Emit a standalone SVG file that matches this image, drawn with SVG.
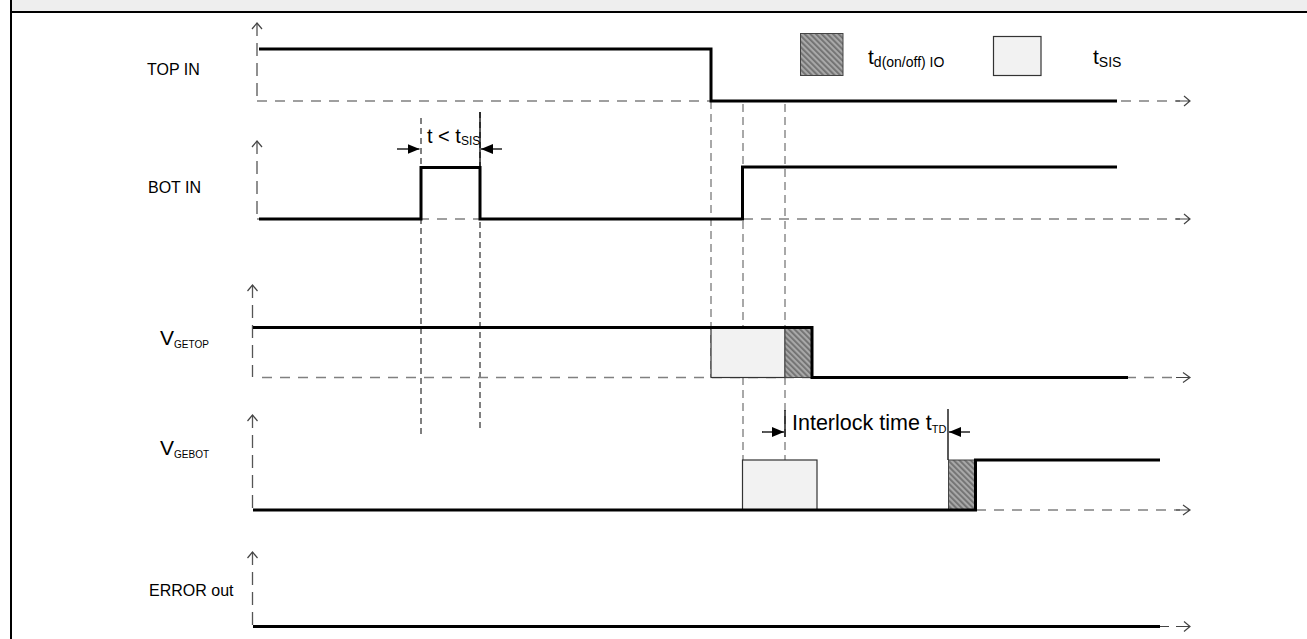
<svg xmlns="http://www.w3.org/2000/svg" width="1307" height="639" viewBox="0 0 1307 639">
<style>
  .lbl{font-family:"Liberation Sans",Arial,sans-serif;fill:#000}
  .sig{fill:none;stroke:#000;stroke-width:3;stroke-linejoin:miter}
  .axis{fill:none;stroke:#555;stroke-width:1.3;stroke-dasharray:13,7}
  .base{fill:none;stroke:#808080;stroke-width:1.6;stroke-dasharray:10,8}
  .head{fill:none;stroke:#444;stroke-width:1.2}
  .gv{fill:none;stroke:#7a7a7a;stroke-width:1.3;stroke-dasharray:8,5}
  .bv{fill:none;stroke:#000;stroke-width:1;stroke-dasharray:6,4}
  .solid{fill:none;stroke:#000;stroke-width:1.3}
  .dim{fill:none;stroke:#000;stroke-width:1.3}
  .light{fill:#f2f2f2;stroke:#333;stroke-width:1.2}
  .hat{fill:url(#hatch);stroke:#444;stroke-width:1}
</style>
<defs>
  <pattern id="hatch" patternUnits="userSpaceOnUse" width="4" height="4" patternTransform="rotate(-45)">
    <rect width="4" height="4" fill="#a8a8a8"/>
    <rect width="1.8" height="4" fill="#707070"/>
  </pattern>
  <marker id="fa" markerUnits="userSpaceOnUse" markerWidth="12" markerHeight="10" refX="12" refY="5" orient="auto">
    <path d="M0,0 L12,5 L0,10 Z" fill="#000"/>
  </marker>
</defs>

<g id="frame">
  <rect x="12" y="0" width="1295" height="11" fill="#eeeeee"/>
  <line x1="10" y1="12" x2="1307" y2="12" stroke="#000" stroke-width="2"/>
  <line x1="11" y1="0" x2="11" y2="639" stroke="#000" stroke-width="2"/>
</g>

<g id="legend">
  <rect class="hat" x="800.5" y="33.5" width="42.5" height="42"/>
  <text class="lbl" x="868" y="64" font-size="21">t<tspan font-size="14" dy="3">d(on/off) IO</tspan></text>
  <rect class="light" x="993.5" y="36.5" width="47.5" height="39"/>
  <text class="lbl" x="1093" y="64" font-size="21">t<tspan font-size="14" dy="3">SIS</tspan></text>
</g>

<g id="timing-guides">
  <path class="gv" d="M711,101 V377"/>
  <path class="gv" d="M743,104 V460"/>
  <path class="gv" d="M785,104 V460"/>
  <path class="bv" d="M421,118 V437"/>
  <path class="bv" d="M480,112 V428"/>
  <path class="solid" d="M480,112 V167"/>
</g>

<g id="top-in">
  <text class="lbl" x="147" y="75" font-size="16">TOP IN</text>
  <path class="axis" d="M257,23 V101"/>
  <path class="head" d="M252,29 L257,23 L262,29"/>
  <path class="base" d="M257,101 H1180"/>
  <path class="head" d="M1176,101 H1190 M1184,96 L1190,101 L1184,106"/>
  <path class="sig" d="M259,49 H711 V101 H1117"/>
</g>

<g id="bot-in">
  <text class="lbl" x="148" y="193" font-size="16">BOT IN</text>
  <path class="axis" d="M257,141 V219"/>
  <path class="head" d="M252,147 L257,141 L262,147"/>
  <path class="base" d="M257,219 H1180"/>
  <path class="head" d="M1176,219 H1190 M1184,214 L1190,219 L1184,224"/>
  <path class="sig" d="M259,219 H421 V167.5 H480 V219 H742.5 V167 H1117"/>
  <text class="lbl" x="427" y="143" font-size="20">t &lt; t<tspan font-size="12" dy="2">SIS</tspan></text>
</g>

<g id="vge-top">
  <text class="lbl" x="160" y="345" font-size="21">V<tspan font-size="10" dy="3">GETOP</tspan></text>
  <path class="axis" d="M252.5,285 V377"/>
  <path class="head" d="M247.5,291 L252.5,285 L257.5,291"/>
  <path class="base" d="M262,377.5 H1180"/>
  <path class="head" d="M1176,377.5 H1190 M1183,372.5 L1190,377.5 L1183,382.5"/>
  <rect class="light" x="711" y="327.5" width="74" height="50"/>
  <rect class="hat" x="785" y="327.5" width="26.5" height="50"/>
  <path class="sig" d="M253,327.5 H812 V377.5 H1128"/>
</g>

<g id="vge-bot">
  <text class="lbl" x="160" y="455" font-size="21">V<tspan font-size="10" dy="3">GEBOT</tspan></text>
  <path class="axis" d="M252.5,415 V510"/>
  <path class="head" d="M247.5,421 L252.5,415 L257.5,421"/>
  <rect class="light" x="742.5" y="460" width="74.5" height="50"/>
  <rect class="hat" x="948.5" y="460" width="27" height="50"/>
  <path class="base" d="M976,510 H1180"/>
  <path class="head" d="M1176,510 H1190 M1183,505 L1190,510 L1183,515"/>
  <path class="sig" d="M253,510 H975.5 V460 H1160"/>
  <path class="solid" d="M785,410 V437 M948,409 V460"/>
  <text class="lbl" x="792" y="430" font-size="21.5">Interlock time t<tspan font-size="11" dy="3">TD</tspan></text>
</g>

<g id="error-out">
  <text class="lbl" x="149" y="596" font-size="16">ERROR out</text>
  <path class="axis" d="M252.5,552 V626"/>
  <path class="head" d="M247.5,558 L252.5,552 L257.5,558"/>
  <path class="sig" d="M253,626.5 H1160"/>
  <path class="head" d="M1160,626.5 H1169 M1176,626.5 H1190 M1184,621.5 L1190,626.5 L1184,631.5"/>
</g>

<g id="connectors">
  <path class="dim" marker-end="url(#fa)" d="M397,149 H419.5"/>
  <path class="dim" marker-end="url(#fa)" d="M502,149 H481"/>
  <path class="dim" marker-end="url(#fa)" d="M762,432 H784"/>
  <path class="dim" marker-end="url(#fa)" d="M970,432 H949"/>
</g>
</svg>
